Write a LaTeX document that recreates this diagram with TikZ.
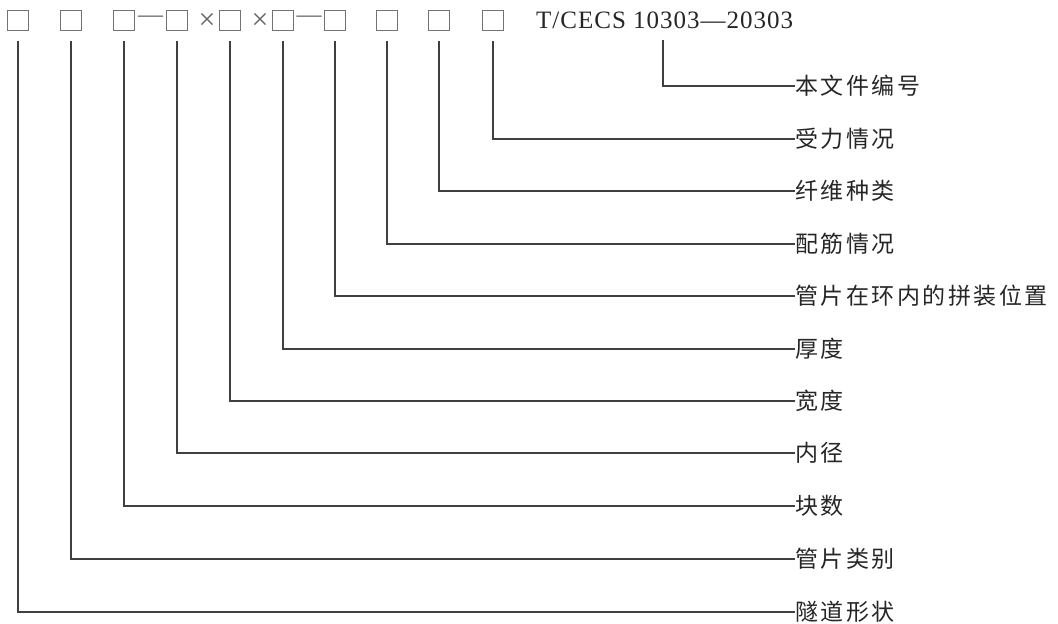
\documentclass[tikz,border=0pt]{standalone}
\usepackage{fontspec}
\setmainfont{Liberation Serif}
\newfontfamily\cjk[LetterSpace=11]{Noto Sans CJK SC}
\newfontfamily\codefont[LetterSpace=4]{Liberation Serif}
\begin{document}
\begin{tikzpicture}[x=1pt,y=-1pt,
  conn/.style={draw=black!75,line width=1.1pt},
  slot/.style={draw=black!55,line width=1pt,minimum size=20.5pt,inner sep=0pt},
  lab/.style={anchor=west,inner sep=0pt,font=\cjk\fontsize{23}{23}\selectfont,text=black!85},
  sepmark/.style={inner sep=0pt,text=black!60,font=\fontsize{25}{25}\selectfont}]
\useasboundingbox (0,0) rectangle (1058,624);
% slots
\node[slot] (b1) at (18,20.5) {};
\node[slot] (b2) at (71,20.5) {};
\node[slot] (b3) at (124,20.5) {};
\node[slot] (b4) at (177,20.5) {};
\node[slot] (b5) at (230,20.5) {};
\node[slot] (b6) at (283,20.5) {};
\node[slot] (b7) at (335,20.5) {};
\node[slot] (b8) at (387,20.5) {};
\node[slot] (b9) at (439,20.5) {};
\node[slot] (b10) at (493,20.5) {};
% separators
\node[sepmark] (d1) at (150.5,19) {—};
\node[sepmark,font=\fontsize{30}{30}\selectfont] (x1) at (207,21) {×};
\node[sepmark,font=\fontsize{30}{30}\selectfont] (x2) at (260,21) {×};
\node[sepmark] (d2) at (309,19) {—};
% code
\node[anchor=base west,inner sep=0pt,font=\codefont\fontsize{25}{25}\selectfont,text=black!85] (code) at (536,28) {T/CECS 10303—20303};
\coordinate (cnum) at (663,40);
% labels
\node[lab] (l11) at (795,86) {本文件编号};
\node[lab] (l10) at (795,139) {受力情况};
\node[lab] (l9) at (795,191) {纤维种类};
\node[lab] (l8) at (795,244) {配筋情况};
\node[lab] (l7) at (795,296) {管片在环内的拼装位置};
\node[lab] (l6) at (795,349) {厚度};
\node[lab] (l5) at (795,401) {宽度};
\node[lab] (l4) at (795,453) {内径};
\node[lab] (l3) at (795,506) {块数};
\node[lab] (l2) at (795,559) {管片类别};
\node[lab] (l1) at (795,612) {隧道形状};
% connectors
\draw[conn] (cnum) |- (l11.west);
\draw[conn] ([yshift=-9.5pt]b10.south) |- (l10.west);
\draw[conn] ([yshift=-9.5pt]b9.south) |- (l9.west);
\draw[conn] ([yshift=-9.5pt]b8.south) |- (l8.west);
\draw[conn] ([yshift=-9.5pt]b7.south) |- (l7.west);
\draw[conn] ([yshift=-9.5pt]b6.south) |- (l6.west);
\draw[conn] ([yshift=-9.5pt]b5.south) |- (l5.west);
\draw[conn] ([yshift=-9.5pt]b4.south) |- (l4.west);
\draw[conn] ([yshift=-9.5pt]b3.south) |- (l3.west);
\draw[conn] ([yshift=-9.5pt]b2.south) |- (l2.west);
\draw[conn] ([yshift=-9.5pt]b1.south) |- (l1.west);
\end{tikzpicture}
\end{document}
